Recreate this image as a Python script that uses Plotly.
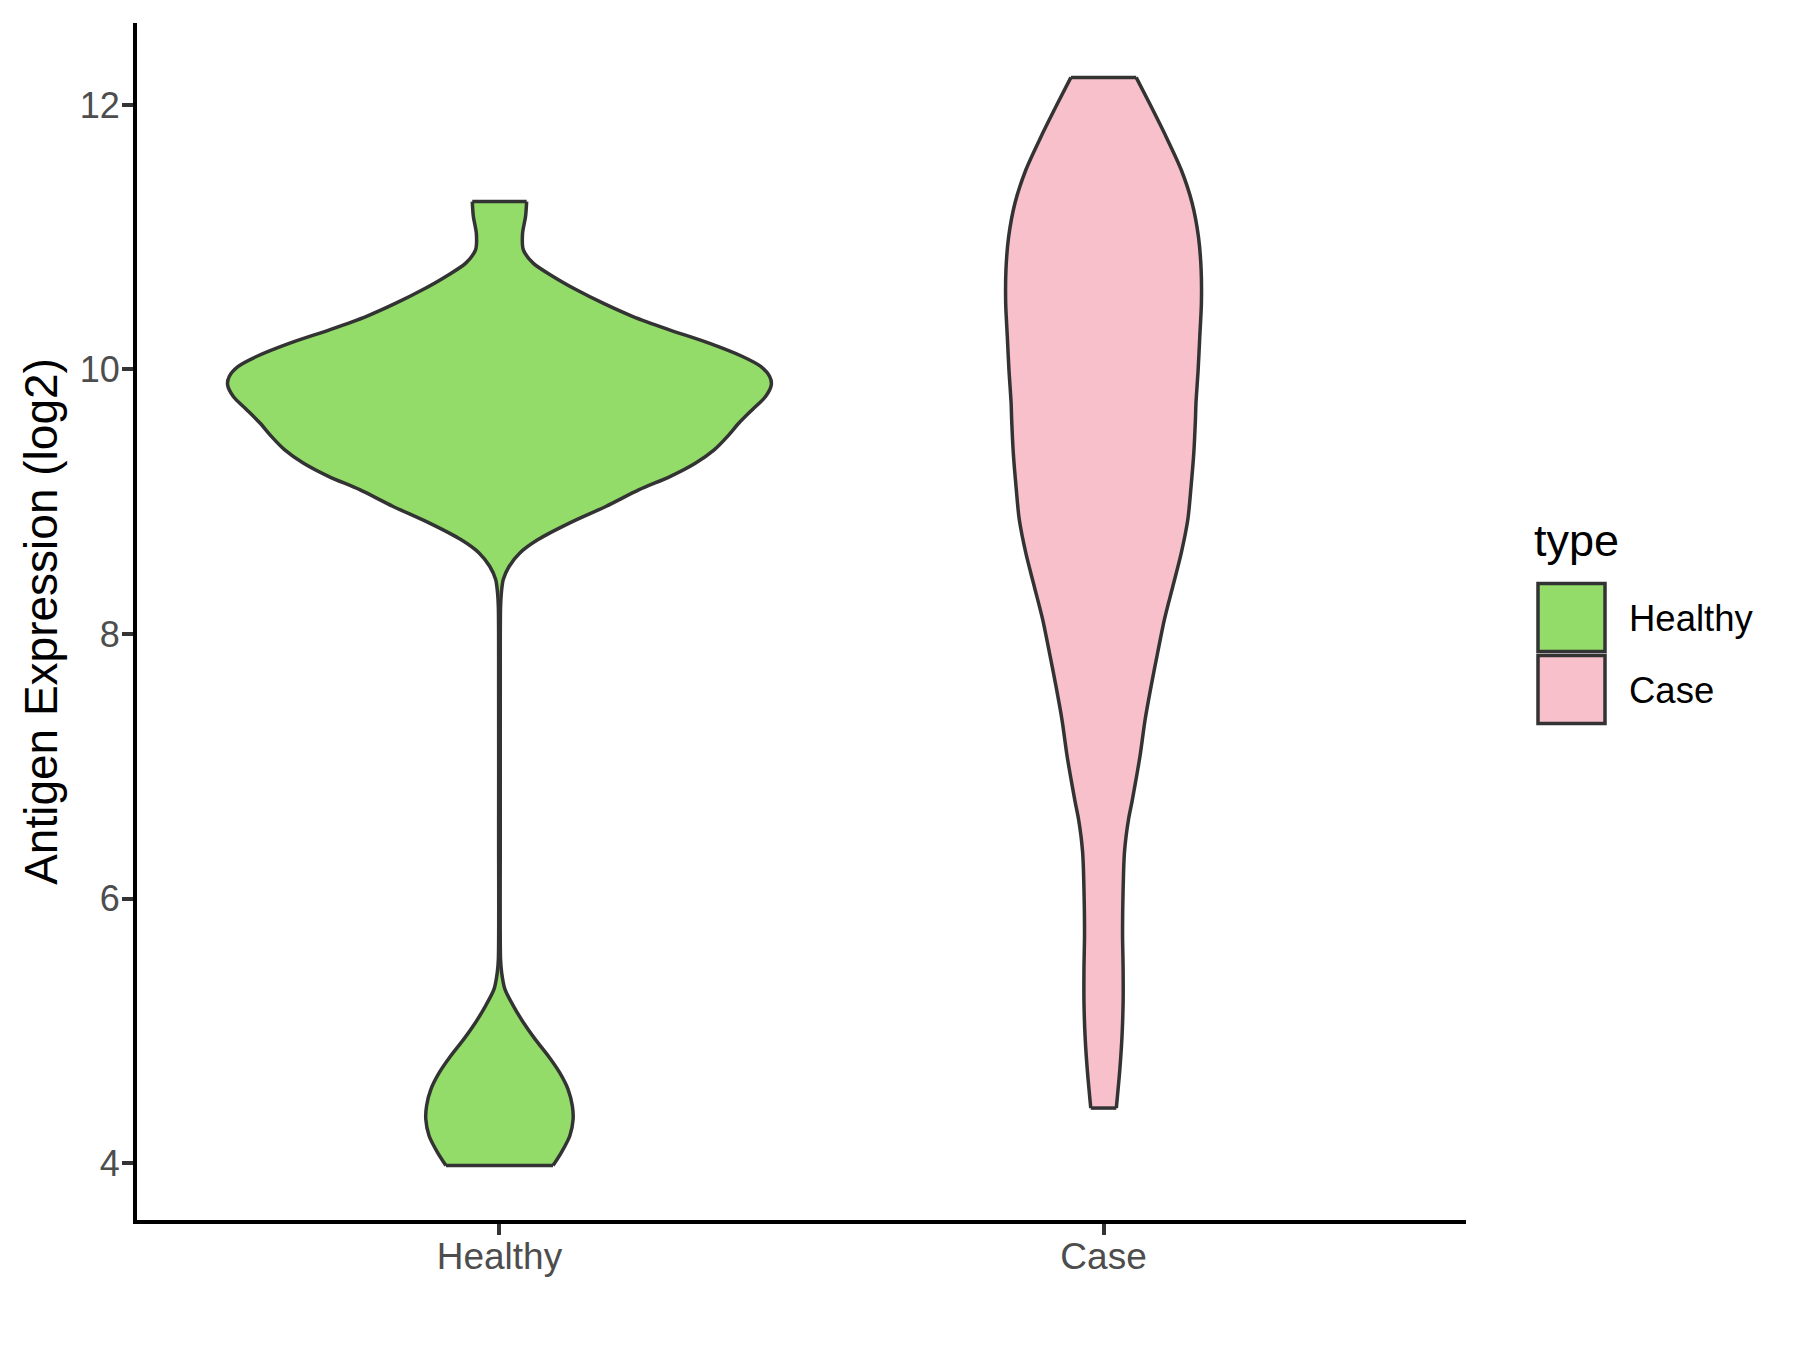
import plotly.graph_objects as go

# ---------------- data ----------------
categories = ["Healthy", "Case"]

# Healthy violin: expression level (log2) and relative density (global max = 1)
healthy_y = [3.981, 4.081, 4.207, 4.333, 4.433, 4.559, 4.685, 4.811, 4.937, 5.063,
             5.189, 5.315, 5.441, 5.542, 6.5, 7.5, 8.2, 8.311, 8.412, 8.512,
             8.613, 8.714, 8.840, 8.966, 9.091, 9.192, 9.293, 9.394, 9.494, 9.595,
             9.696, 9.796, 9.885, 9.947, 10.023, 10.098, 10.199, 10.300, 10.400, 10.501,
             10.602, 10.703, 10.804, 10.904, 11.030, 11.156, 11.269]
healthy_density = [0.197, 0.228, 0.259, 0.271, 0.268, 0.252, 0.221, 0.179, 0.131, 0.088,
                   0.051, 0.020, 0.008, 0.004, 0.003, 0.003, 0.004, 0.007, 0.014, 0.036,
                   0.075, 0.142, 0.259, 0.393, 0.514, 0.629, 0.722, 0.791, 0.839, 0.881,
                   0.930, 0.979, 1.000, 0.994, 0.961, 0.894, 0.771, 0.625, 0.491, 0.381,
                   0.283, 0.197, 0.124, 0.088, 0.085, 0.096, 0.100]

# Case violin
case_y = [4.416, 4.710, 4.962, 5.214, 5.466, 5.718, 5.970, 6.222, 6.350, 6.473,
          6.600, 6.725, 6.850, 6.977, 7.103, 7.354, 7.606, 7.858, 8.110, 8.361,
          8.613, 8.865, 9.116, 9.369, 9.620, 9.746, 9.998, 10.249, 10.502, 10.753,
          11.005, 11.257, 11.508, 11.760, 12.012, 12.208]
case_density = [0.047, 0.060, 0.068, 0.072, 0.072, 0.070, 0.071, 0.074, 0.077, 0.083,
                0.092, 0.104, 0.115, 0.126, 0.136, 0.153, 0.175, 0.199, 0.224, 0.255,
                0.286, 0.310, 0.322, 0.332, 0.338, 0.340, 0.348, 0.354, 0.360, 0.359,
                0.349, 0.326, 0.286, 0.230, 0.169, 0.120]

y_ticks = [4, 6, 8, 10, 12]

# ---------------- styling ----------------
FONT = "Liberation Sans, Arial, sans-serif"
FILL = {"Healthy": "#93DC6A", "Case": "#F7C0CB"}
OUTLINE = "#333333"
HALF_WIDTH = 0.45  # ggplot default violin width 0.9

# page body has an 8px margin, so the figure is drawn 8px smaller
W, H = 1792, 1342
L, R, T, B = 129, 334, 15, 130

groups = {"Healthy": (healthy_y, healthy_density), "Case": (case_y, case_density)}
dmax = max(max(healthy_density), max(case_density))

fig = go.Figure()
for i, name in enumerate(categories, start=1):
    ys, ds = groups[name]
    hw = [HALF_WIDTH * d / dmax for d in ds]
    right = [i + w for w in hw]
    left = [i - w for w in hw]
    # filled body (no stroke)
    fig.add_trace(go.Scatter(
        x=right + left[::-1], y=list(ys) + list(ys)[::-1], mode="lines",
        fill="toself", fillcolor=FILL[name], line=dict(width=0),
        name=name, showlegend=False, hoverinfo="skip"))
    # smooth outline: two curved sides plus flat top and bottom
    ox = right + [None] + left + [None] + [left[-1], right[-1]] + [None] + [left[0], right[0]]
    oy = list(ys) + [None] + list(ys) + [None] + [ys[-1], ys[-1]] + [None] + [ys[0], ys[0]]
    fig.add_trace(go.Scatter(
        x=ox, y=oy, mode="lines", connectgaps=False,
        line=dict(color=OUTLINE, width=3.5, shape="spline", smoothing=0.8),
        showlegend=False, hoverinfo="skip"))

all_y = healthy_y + case_y
lo, hi = min(all_y), max(all_y)
pad = 0.05 * (hi - lo)

fig.update_layout(
    width=W, height=H,
    margin=dict(l=L, r=R, t=T, b=B),
    paper_bgcolor="white", plot_bgcolor="white",
    font=dict(family=FONT),
    xaxis=dict(range=[0.4, 2.6], tickvals=[1, 2], ticktext=categories,
               showgrid=False, zeroline=False, showline=True, linecolor="black",
               linewidth=3.8, ticks="outside", ticklen=11, tickwidth=3.8,
               tickcolor=OUTLINE, ticklabelstandoff=-10,
               tickfont=dict(size=37, color="#4D4D4D", family=FONT)),
    yaxis=dict(range=[lo - pad, hi + pad], tickvals=y_ticks,
               ticktext=[str(v) for v in y_ticks],
               showgrid=False, zeroline=False, showline=True, linecolor="black",
               linewidth=3.8, ticks="outside", ticklen=11, tickwidth=3.8,
               tickcolor=OUTLINE, ticklabelstandoff=-5,
               tickfont=dict(size=36, color="#4D4D4D", family=FONT),
               title=dict(text="Antigen Expression (log2)",
                          font=dict(size=46, color="black", family=FONT), standoff=9)),
)

# ---------------- legend (ggplot style) ----------------
def px(xp):
    return (xp - L) / (W - L - R)

def py(yp):
    return (H - B - yp) / (H - T - B)

OX, OY = 8, 8  # page offset of the figure
fig.add_annotation(xref="paper", yref="paper", x=px(1533 - OX), y=py(540 - OY), text="type",
                   showarrow=False, xanchor="left", yanchor="middle", borderpad=0,
                   font=dict(size=45, color="black", family=FONT))
keys = [("Healthy", 583.5, 651.5, 618), ("Case", 655.5, 723.5, 690)]
for name, y0, y1, ty in keys:
    fig.add_shape(type="rect", xref="paper", yref="paper",
                  x0=px(1538 - OX), x1=px(1605 - OX), y0=py(y1 - OY), y1=py(y0 - OY),
                  fillcolor=FILL[name], line=dict(color=OUTLINE, width=3.5))
    fig.add_annotation(xref="paper", yref="paper", x=px(1628 - OX), y=py(ty - OY), text=name,
                       showarrow=False, xanchor="left", yanchor="middle", borderpad=0,
                       font=dict(size=36.5, color="black", family=FONT))

fig.write_html("out.html")
